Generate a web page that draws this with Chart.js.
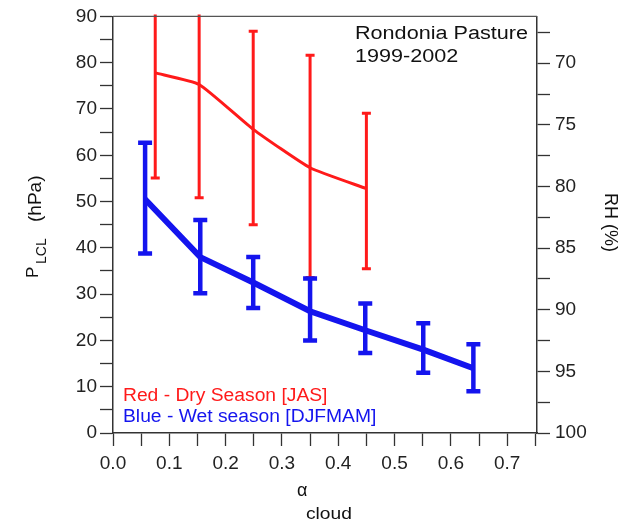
<!DOCTYPE html>
<html>
<head>
<meta charset="utf-8">
<script src="https://cdn.jsdelivr.net/npm/chart.js@4.4.1/dist/chart.umd.min.js"></script>
<style>
  html, body { margin: 0; padding: 0; background: #fff; }
  canvas { display: block; }
</style>
</head>
<body>
<canvas id="grafico" width="625" height="523"></canvas>
<script>
// valores
const xTicks = [0, 0.05, 0.1, 0.15, 0.2, 0.25, 0.3, 0.35, 0.4, 0.45, 0.5, 0.55, 0.6, 0.65, 0.7, 0.75];
const xLabels = ['0.0', '', '0.1', '', '0.2', '', '0.3', '', '0.4', '', '0.5', '', '0.6', '', '0.7', ''];
const pTicks = [0, 5, 10, 15, 20, 25, 30, 35, 40, 45, 50, 55, 60, 65, 70, 75, 80, 85, 90];
const pLabels = ['0', '', '10', '', '20', '', '30', '', '40', '', '50', '', '60', '', '70', '', '80', '', '90'];
const rhTicks = [67.5, 70, 72.5, 75, 77.5, 80, 82.5, 85, 87.5, 90, 92.5, 95, 97.5, 100];
const rhLabels = ['', '70', '', '75', '', '80', '', '85', '', '90', '', '95', '', '100'];

const dryX = [0.075, 0.153, 0.249, 0.35, 0.45];
const dryP = [77.8, 75.3, 65.6, 57.3, 52.8];
const dryHi = [100, 100, 86.8, 81.6, 69.1];
const dryLo = [55.1, 50.8, 45, 33.6, 35.5];

const wetX = [0.057, 0.155, 0.249, 0.35, 0.448, 0.551, 0.64];
const wetP = [50.5, 38, 32.5, 26.3, 22.2, 18, 14];
const wetHi = [62.7, 46, 38, 33.4, 28, 23.7, 19.2];
const wetLo = [38.8, 30.2, 27, 20, 17.3, 13, 9];

const ROJO = '#ff1a1a'
const AZUL = '#1414ee'
const FUENTE = "'Liberation Sans', Arial, sans-serif"

const texto = (ctx, t, x, y, size, color, sx) => {
  ctx.save()
  ctx.font = size + 'px ' + FUENTE
  ctx.fillStyle = color
  ctx.textBaseline = 'alphabetic'
  ctx.translate(x, y)
  ctx.scale(sx || 1, 1)
  ctx.fillText(t, 0, 0)
  ctx.restore()
}

const barras = {
  id: 'barras',
  afterDatasetsDraw(chart) {
    const { ctx, chartArea, scales } = chart
    const x = scales.x, y = scales.y
    ctx.save()
    ctx.beginPath()
    ctx.rect(chartArea.left, chartArea.top - 2, chartArea.right - chartArea.left, chartArea.bottom - chartArea.top + 2)
    ctx.clip()
    const dibujar = (xs, hi, lo, color, ancho, cap) => {
      ctx.strokeStyle = color
      ctx.lineWidth = ancho
      ctx.lineCap = 'butt'
      xs.forEach((v, i) => {
        const px = x.getPixelForValue(v)
        const ph = y.getPixelForValue(hi[i])
        const pl = y.getPixelForValue(lo[i])
        ctx.beginPath()
        ctx.moveTo(px, ph); ctx.lineTo(px, pl)
        ctx.moveTo(px - cap / 2, ph); ctx.lineTo(px + cap / 2, ph)
        ctx.moveTo(px - cap / 2, pl); ctx.lineTo(px + cap / 2, pl)
        ctx.stroke()
      })
    }
    dibujar(dryX, dryHi, dryLo, ROJO, 3, 9)
    dibujar(wetX, wetHi, wetLo, AZUL, 4.5, 14)
    ctx.restore()
  },
  afterDraw(chart) {
    const { ctx, chartArea } = chart
    // marco superior
    ctx.save()
    ctx.strokeStyle = '#555'
    ctx.lineWidth = 1.2
    ctx.beginPath()
    ctx.moveTo(chartArea.left, chartArea.top)
    ctx.lineTo(chartArea.right, chartArea.top)
    ctx.stroke()
    ctx.restore()

    texto(ctx, 'Rondonia Pasture', 355, 38.5, 18, '#111', 1.2)
    texto(ctx, '1999-2002', 355, 62, 18, '#111', 1.2)
    texto(ctx, 'Red - Dry Season [JAS]', 123, 401, 18, ROJO, 1.07)
    texto(ctx, 'Blue - Wet season [DJFMAM]', 123, 422, 18, AZUL, 1.07)

    // titulo eje x
    texto(ctx, '\u03b1', 297, 496, 18, '#111', 1)
    texto(ctx, 'cloud', 306, 519, 16, '#111', 1.2)

    // titulo eje izquierdo
    ctx.save()
    ctx.translate(38, 278)
    ctx.rotate(-Math.PI / 2)
    ctx.fillStyle = '#111'
    ctx.font = '17px ' + FUENTE
    ctx.fillText('P', 0, 0)
    ctx.font = '14px ' + FUENTE
    ctx.fillText('LCL', 14, 8)
    ctx.font = '19px ' + FUENTE
    ctx.fillText('(hPa)', 56, 3)
    ctx.restore()

    // titulo eje derecho
    ctx.save()
    ctx.translate(605, 193)
    ctx.rotate(Math.PI / 2)
    ctx.fillStyle = '#111'
    ctx.font = '18px ' + FUENTE
    ctx.fillText('RH (%)', 0, 0)
    ctx.restore()
  }
}

const ejeComun = {
  grid: { drawOnChartArea: false, tickLength: 13, tickColor: '#333', tickWidth: 1.3 },
  border: { color: '#333', width: 1.5 },
}
const fuenteTicks = { family: FUENTE, size: 19 }

const canvas = document.getElementById('grafico')
let grafico
try {
  if (grafico) {
    grafico.destroy()
  }
  grafico = new Chart(canvas, {
    type: 'line',
    data: {
      datasets: [
        {
          label: 'Red - Dry Season [JAS]',
          data: dryX.map((v, i) => ({ x: v, y: dryP[i] })),
          borderColor: ROJO,
          borderWidth: 3,
          pointRadius: 0,
          tension: 0.15,
          fill: false,
          xAxisID: 'x',
          yAxisID: 'y',
        },
        {
          label: 'Blue - Wet season [DJFMAM]',
          data: wetX.map((v, i) => ({ x: v, y: wetP[i] })),
          borderColor: AZUL,
          borderWidth: 6,
          pointRadius: 0,
          tension: 0,
          fill: false,
          xAxisID: 'x',
          yAxisID: 'y',
        },
      ],
    },
    options: {
      responsive: false,
      animation: false,
      devicePixelRatio: 1,
      layout: { padding: { top: 15, left: 0, right: 0, bottom: 0 } },
      plugins: {
        legend: { display: false },
        tooltip: { enabled: false },
      },
      scales: {
        x: {
          ...ejeComun,
          type: 'linear',
          position: 'bottom',
          min: 0,
          max: 0.753,
          afterBuildTicks: (s) => { s.ticks = xTicks.map((v) => ({ value: v })) },
          afterFit: (s) => { s.height = 90 },
          ticks: {
            autoSkip: false,
            maxRotation: 0,
            padding: 6,
            color: '#222',
            font: fuenteTicks,
            callback: (v) => xLabels[xTicks.findIndex((t) => Math.abs(t - v) < 1e-6)] || '',
          },
        },
        y: {
          ...ejeComun,
          type: 'linear',
          position: 'left',
          min: 0,
          max: 90,
          afterBuildTicks: (s) => { s.ticks = pTicks.map((v) => ({ value: v })) },
          afterFit: (s) => { s.width = 113 },
          ticks: {
            autoSkip: false,
            padding: 3,
            color: '#222',
            font: fuenteTicks,
            callback: (v) => pLabels[pTicks.indexOf(v)] || '',
          },
        },
        y2: {
          ...ejeComun,
          type: 'linear',
          position: 'right',
          reverse: true,
          min: 66.2,
          max: 100,
          afterBuildTicks: (s) => { s.ticks = rhTicks.map((v) => ({ value: v })) },
          afterFit: (s) => { s.width = 88 },
          ticks: {
            autoSkip: false,
            padding: 5,
            color: '#222',
            font: fuenteTicks,
            callback: (v) => rhLabels[rhTicks.indexOf(v)] || '',
          },
        },
      },
    },
    plugins: [barras],
  })
} catch (error) {
  console.log(error)
}
</script>
</body>
</html>
